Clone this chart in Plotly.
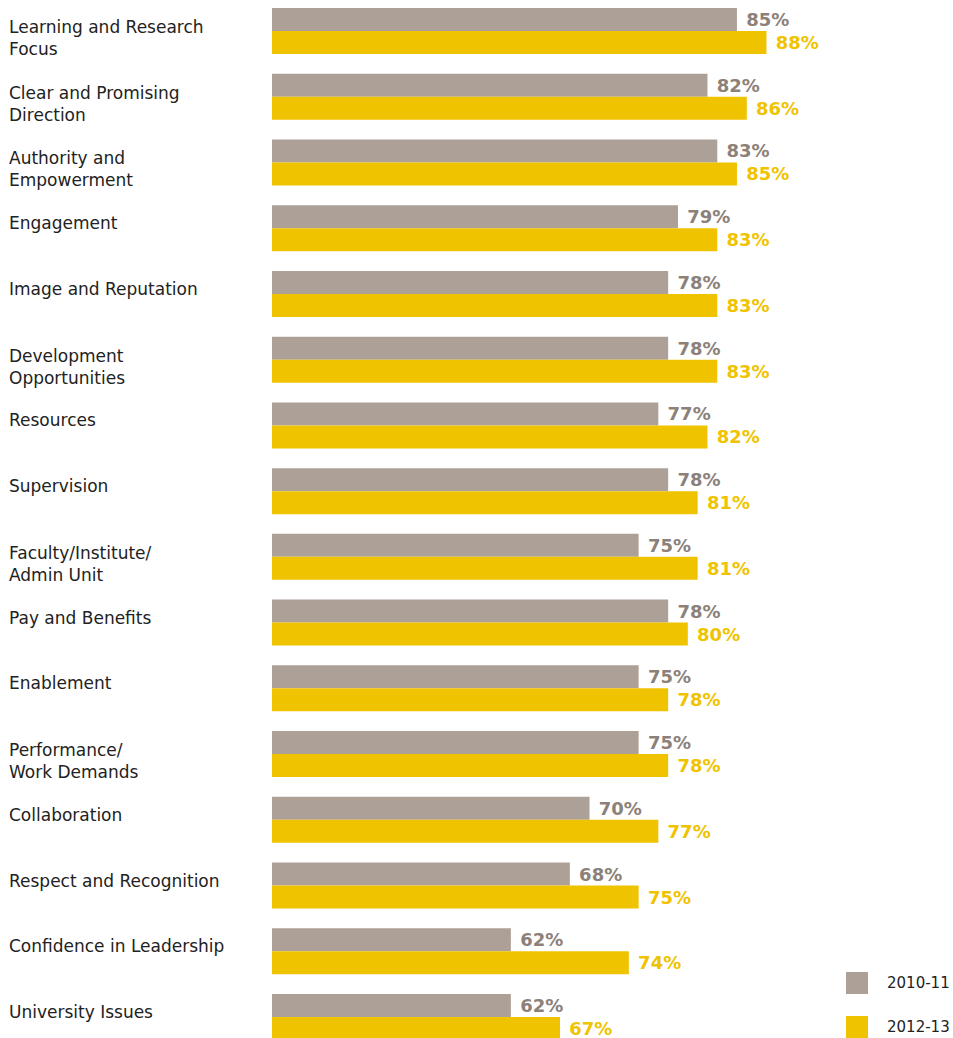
import plotly.graph_objects as go

# Survey dimensions, top to bottom
categories = [
    "Learning and Research<br>Focus",
    "Clear and Promising<br>Direction",
    "Authority and<br>Empowerment",
    "Engagement",
    "Image and Reputation",
    "Development<br>Opportunities",
    "Resources",
    "Supervision",
    "Faculty/Institute/<br>Admin Unit",
    "Pay and Benefits",
    "Enablement",
    "Performance/<br>Work Demands",
    "Collaboration",
    "Respect and Recognition",
    "Confidence in Leadership",
    "University Issues",
]

# Percent favourable by survey year
scores_2010 = [85, 82, 83, 79, 78, 78, 77, 78, 75, 78, 75, 75, 70, 68, 62, 62]
scores_2012 = [88, 86, 85, 83, 83, 83, 82, 81, 81, 80, 78, 78, 77, 75, 74, 67]

series_names = ["2010-11", "2012-13"]

GRAY = "#ada097"
GRAY_TEXT = "#8c8179"
YELLOW = "#f0c300"
FONT = "DejaVu Sans"

W, H = 953, 1038
positions = list(range(len(categories)))

fig = go.Figure()
for name, vals, col, tcol in [
    (series_names[0], scores_2010, GRAY, GRAY_TEXT),
    (series_names[1], scores_2012, YELLOW, YELLOW),
]:
    fig.add_trace(go.Bar(
        y=positions, x=vals, orientation="h", name=name,
        marker=dict(color=col, line=dict(width=0)),
        text=[f" {v}%" for v in vals], textposition="outside",
        textfont=dict(family=FONT, size=18, color=tcol, weight=600),
        cliponaxis=False, showlegend=False,
    ))

# Category labels, left aligned at the page edge
for i, lab in enumerate(categories):
    two_line = "<br>" in lab
    fig.add_annotation(
        x=7 / W, xref="paper", y=i, yref="y", text=lab,
        xanchor="left", yanchor="middle", align="left", showarrow=False,
        yshift=-7 if two_line else 5,
        font=dict(family=FONT, size=17, color="#222222"),
    )

# Legend swatches and labels in the lower right
legend_rows = [(series_names[0], GRAY, 983), (series_names[1], YELLOW, 1027)]
for name, col, cy in legend_rows:
    fig.add_shape(
        type="rect", xref="paper", yref="paper",
        x0=846 / W, x1=868 / W, y0=1 - (cy + 11) / H, y1=1 - (cy - 11) / H,
        fillcolor=col, line=dict(width=0),
    )
    fig.add_annotation(
        x=885 / W, xref="paper", y=1 - cy / H, yref="paper", text=name,
        xanchor="left", yanchor="middle", showarrow=False,
        font=dict(family=FONT, size=15, color="#222222"),
    )

px_per_unit = 65.73
fig.update_layout(
    width=W, height=H,
    margin=dict(l=0, r=0, t=0, b=0),
    paper_bgcolor="white", plot_bgcolor="white",
    barmode="group", bargap=0.3, bargroupgap=0,
    xaxis=dict(domain=[272 / W, 1], range=[37.7, 37.7 + (W - 272) / 9.83],
               visible=False, fixedrange=True),
    yaxis=dict(range=[15 + 21 / px_per_unit, -31 / px_per_unit],
               visible=False, fixedrange=True),
)

fig.write_html("out.html")
